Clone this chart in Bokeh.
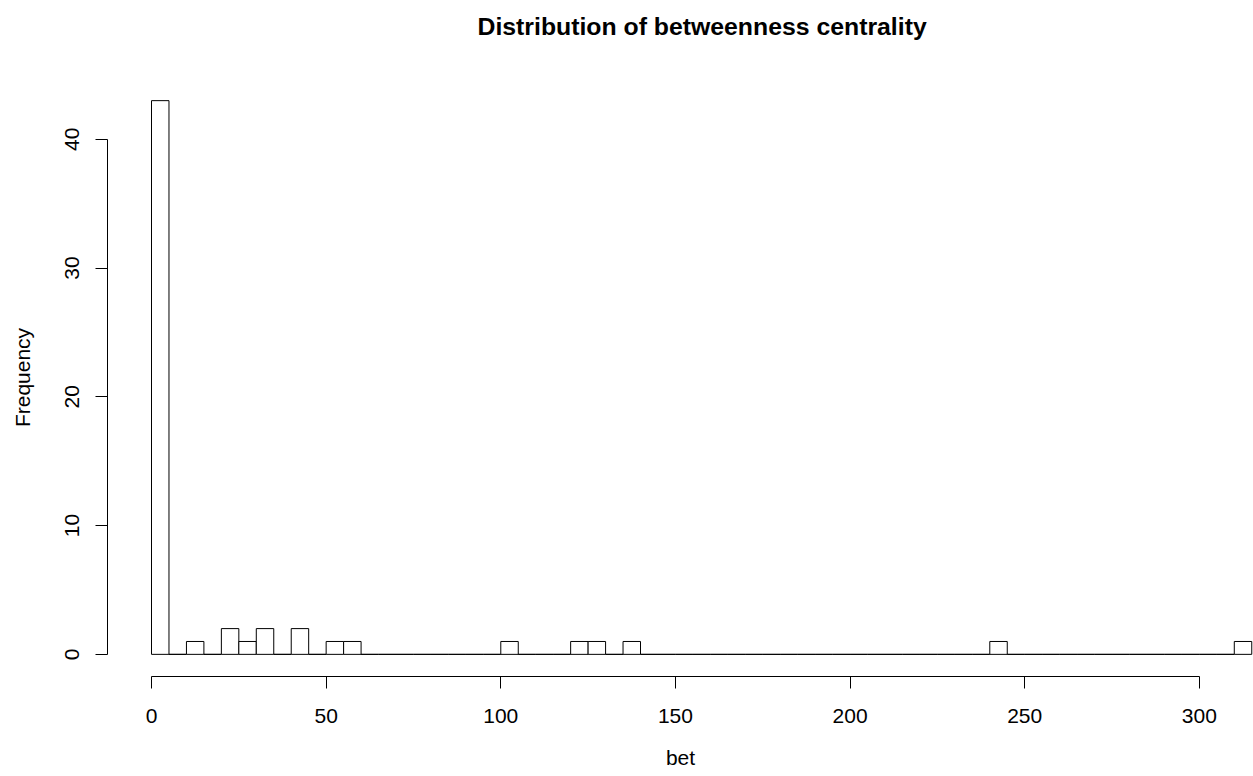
from bokeh.plotting import figure
from bokeh.models import Range1d, FixedTicker, ColumnDataSource, Title
from bokeh.embed import file_html
from bokeh.resources import INLINE

# Histogram of betweenness centrality, bin width 5
bin_width = 5
bin_starts = list(range(0, 315, bin_width))
counts = [43, 0, 1, 0, 2, 1, 2, 0, 2, 0,
          1, 1, 0, 0, 0, 0, 0, 0, 0, 0,
          1, 0, 0, 0, 1, 1, 0, 1, 0, 0,
          0, 0, 0, 0, 0, 0, 0, 0, 0, 0,
          0, 0, 0, 0, 0, 0, 0, 0, 1, 0,
          0, 0, 0, 0, 0, 0, 0, 0, 0, 0,
          0, 0, 1]
x_ticks = [0, 50, 100, 150, 200, 250, 300]
y_ticks = [0, 10, 20, 30, 40]
title_text = "Distribution of betweenness centrality"
x_label = "bet"
y_label = "Frequency"

src = ColumnDataSource(dict(
    left=bin_starts,
    right=[b + bin_width for b in bin_starts],
    top=counts,
))

FONT = "Liberation Sans"

p = figure(width=1253, height=776, output_backend="svg", toolbar_location=None,
           x_range=Range1d(-12.6, 315.5), y_range=Range1d(-1.72, 44.72),
           min_border_left=107, min_border_right=0, min_border_top=78,
           min_border_bottom=100, title=None)
p.outline_line_color = None
p.xgrid.visible = False
p.ygrid.visible = False
p.background_fill_color = "white"
p.border_fill_color = "white"

p.quad(left="left", right="right", top="top", bottom=0, source=src,
       fill_color="white", line_color="black", line_width=1)

# spacer between the frame and the title
p.add_layout(Title(text=" ", text_font_size="1px", standoff=36), "above")
p.add_layout(Title(text=title_text, text_font=FONT, text_font_size="24.8px",
                   text_font_style="bold", text_color="black", align="left",
                   offset=370, standoff=0), "above")

for ax in (p.xaxis[0], p.yaxis[0]):
    ax.axis_line_color = "black"
    ax.major_tick_line_color = "black"
    ax.minor_tick_line_color = None
    ax.major_tick_out = 12
    ax.major_tick_in = 0
    ax.major_label_text_font = FONT
    ax.major_label_text_font_size = "21px"
    ax.major_label_text_color = "black"
    ax.axis_label_text_font = FONT
    ax.axis_label_text_font_size = "21px"
    ax.axis_label_text_font_style = "normal"
    ax.axis_label_text_color = "black"

p.xaxis.ticker = FixedTicker(ticks=x_ticks)
p.xaxis.bounds = (0, 300)
p.xaxis.axis_label = x_label
p.xaxis.major_label_standoff = 20
p.xaxis.axis_label_standoff = 20

p.yaxis.ticker = FixedTicker(ticks=y_ticks)
p.yaxis.bounds = (0, 40)
p.yaxis.axis_label = y_label
p.yaxis.major_label_orientation = "vertical"
p.yaxis.major_label_standoff = 16
p.yaxis.axis_label_standoff = 29

open("out.html", "w").write(file_html(p, INLINE))
